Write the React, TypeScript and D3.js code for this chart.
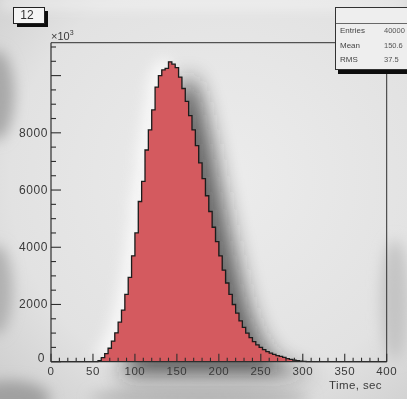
import React from "react";
import * as d3 from "d3";

// histogram "12": counts per 4 s bin, 0..400 s
const binWidth = 4;
const counts = [
  0, 0, 0, 0, 0, 0, 0, 0, 0, 0, 0, 0, 0, 5, 40, 140, 280, 470, 720, 1010,
  1380, 1800, 2350, 2950, 3700, 4500, 5600, 6300, 7400, 8100, 8800, 9600, 10000, 10200, 10250, 10480, 10400, 10280, 9950, 9550,
  9100, 8600, 8100, 7550, 6950, 6400, 5800, 5250, 4700, 4200, 3700, 3200, 2750, 2350, 2000, 1700, 1430, 1200, 1000, 840,
  700, 590, 500, 420, 355, 300, 255, 215, 185, 150, 110, 80, 55, 35, 20, 10, 5, 2, 0, 0,
  0, 0, 0, 0, 0, 0, 0, 0, 0, 0, 0, 0, 0, 0, 0, 0, 0, 0, 0, 0,
];

const xTickLabels = ["0", "50", "100", "150", "200", "250", "300", "350", "400"];
const yTickLabels = ["0", "2000", "4000", "6000", "8000"];
const statNames = ["Entries", "Mean", "RMS"];
const statValues = ["40000", "150.6", "37.5"];

const W = 407;
const H = 399;
const frame = { left: 51, right: 386.7, top: 42.7, bottom: 361.7 };
const font = "'Liberation Sans', Arial, Helvetica, sans-serif";
const ink = "#2e2e2e";

const App = () => {
  const x = d3.scaleLinear().domain([0, 400]).range([frame.left, frame.right]);
  const y = d3.scaleLinear().domain([0, 11150]).range([frame.bottom, frame.top]);

  const pts: [number, number][] = [];
  counts.forEach((c, i) => {
    pts.push([i * binWidth, c]);
    pts.push([(i + 1) * binWidth, c]);
  });
  const line = d3
    .line<[number, number]>()
    .x((d) => x(d[0]))
    .y((d) => y(d[1]));
  const area = d3
    .area<[number, number]>()
    .x((d) => x(d[0]))
    .y0(y(0))
    .y1((d) => y(d[1]));
  const areaPath = area(pts) || "";
  const outline = line(pts) || "";

  const xMinor = d3.range(0, 401, 10);
  const yMinor = d3.range(0, 11001, 500);

  return (
    <div style={{ position: "fixed", left: 0, top: 0 }}>
      <svg width={W} height={H} style={{ display: "block" }}>
        <defs>
          <filter id="big" x="-50%" y="-50%" width="200%" height="200%">
            <feGaussianBlur stdDeviation="11" />
          </filter>
          <filter id="mid" x="-50%" y="-50%" width="200%" height="200%">
            <feGaussianBlur stdDeviation="7" />
          </filter>
          <filter id="soft">
            <feGaussianBlur stdDeviation="0.6" />
          </filter>
          <radialGradient id="bg" cx="0.55" cy="0.45" r="0.75">
            <stop offset="0" stopColor="#ececec" />
            <stop offset="0.7" stopColor="#e2e2e2" />
            <stop offset="1" stopColor="#cfcfcf" />
          </radialGradient>
        </defs>

        {/* photo background */}
        <rect x={0} y={0} width={W} height={H} fill="url(#bg)" />
        <g filter="url(#mid)">
          <rect x={0} y={0} width={W} height={6} fill="#fafafa" />
          <ellipse cx={-4} cy={95} rx={18} ry={45} fill="#a8a8a8" />
          <ellipse cx={-4} cy={290} rx={16} ry={45} fill="#b0b0b0" />
          <ellipse cx={10} cy={399} rx={40} ry={18} fill="#a0a0a0" />
          <ellipse cx={200} cy={398} rx={110} ry={10} fill="#b4b4b4" />
          <ellipse cx={395} cy={300} rx={14} ry={60} fill="#c4c4c4" />
        </g>

        {/* glow and shadow of the histogram */}
        <path d={areaPath} transform="translate(-8,-5)" fill="#ffffff" opacity={0.75} filter="url(#mid)" />
        <path d={areaPath} transform="translate(18,14)" fill="#1e1e1e" opacity={0.66} filter="url(#big)" />

        <g filter="url(#soft)">
          <path d={areaPath} fill="#d45a5e" />
          <path d={outline} fill="none" stroke="#1a1a1a" strokeWidth={1.3} />

          {/* frame */}
          <line x1={frame.left} x2={335} y1={frame.top} y2={frame.top} stroke={ink} strokeWidth={1} />
          <line x1={frame.right} x2={frame.right} y1={74} y2={frame.bottom} stroke={ink} strokeWidth={1} />
          <line x1={frame.left} x2={frame.left} y1={frame.top} y2={frame.bottom} stroke={ink} strokeWidth={1.2} />
          <line x1={frame.left} x2={frame.right} y1={frame.bottom} y2={frame.bottom} stroke={ink} strokeWidth={1.2} />

          {/* x ticks */}
          {xMinor.map((v) => (
            <line
              key={"xt" + v}
              x1={x(v)}
              x2={x(v)}
              y1={frame.bottom}
              y2={frame.bottom - (v % 50 === 0 ? 8 : 4)}
              stroke={ink}
              strokeWidth={1.1}
            />
          ))}
          {xTickLabels.map((t) => (
            <text
              key={"xl" + t}
              x={x(+t)}
              y={375}
              textAnchor="middle"
              fontFamily={font}
              fontSize={11.5}
              letterSpacing={0.5}
              fill="#3a3a3a"
            >
              {t}
            </text>
          ))}
          <text x={382} y={389} textAnchor="end" fontFamily={font} fontSize={11.5} letterSpacing={0.4} fill="#3a3a3a">
            Time, sec
          </text>

          {/* y ticks */}
          {yMinor.map((v) => (
            <line
              key={"yt" + v}
              x1={frame.left}
              x2={frame.left + (v % 2000 === 0 ? 10 : 5)}
              y1={y(v)}
              y2={y(v)}
              stroke={ink}
              strokeWidth={1.1}
            />
          ))}
          {yTickLabels.map((t) => (
            <text
              key={"yl" + t}
              x={t === "0" ? 45 : 48}
              y={y(+t) + (t === "0" ? 0 : 4)}
              textAnchor="end"
              fontFamily={font}
              fontSize={12}
              letterSpacing={0.6}
              fill="#3a3a3a"
            >
              {t}
            </text>
          ))}
          <text x={51} y={40} fontFamily={font} fontSize={11} fill="#3a3a3a">
            ×10
            <tspan dy={-5} fontSize={7}>
              3
            </tspan>
          </text>

          {/* title box */}
          <rect x={17} y={11} width={31} height={16} fill="#111" />
          <rect x={13.5} y={7.5} width={31} height={16} fill="#f4f4f4" stroke="#222" strokeWidth={1} />
          <text x={27} y={19} textAnchor="middle" fontFamily={font} fontSize={12} fill="#333">
            12
          </text>

          {/* stats box */}
          <rect x={338} y={70} width={80} height={4} fill="#111" />
          <rect x={335.5} y={7.5} width={90} height={62} fill="#eeeeee" stroke="#333" strokeWidth={1} />
          <line x1={335.5} x2={407} y1={23.5} y2={23.5} stroke="#444" strokeWidth={0.8} />
          {statNames.map((s, i) => (
            <g key={s}>
              <text x={340} y={33 + i * 14.5} fontFamily={font} fontSize={8} fill="#444">
                {s}
              </text>
              <text x={384} y={33 + i * 14.5} fontFamily={font} fontSize={7.5} fill="#555">
                {statValues[i]}
              </text>
            </g>
          ))}
        </g>
      </svg>
    </div>
  );
};

export default App;
